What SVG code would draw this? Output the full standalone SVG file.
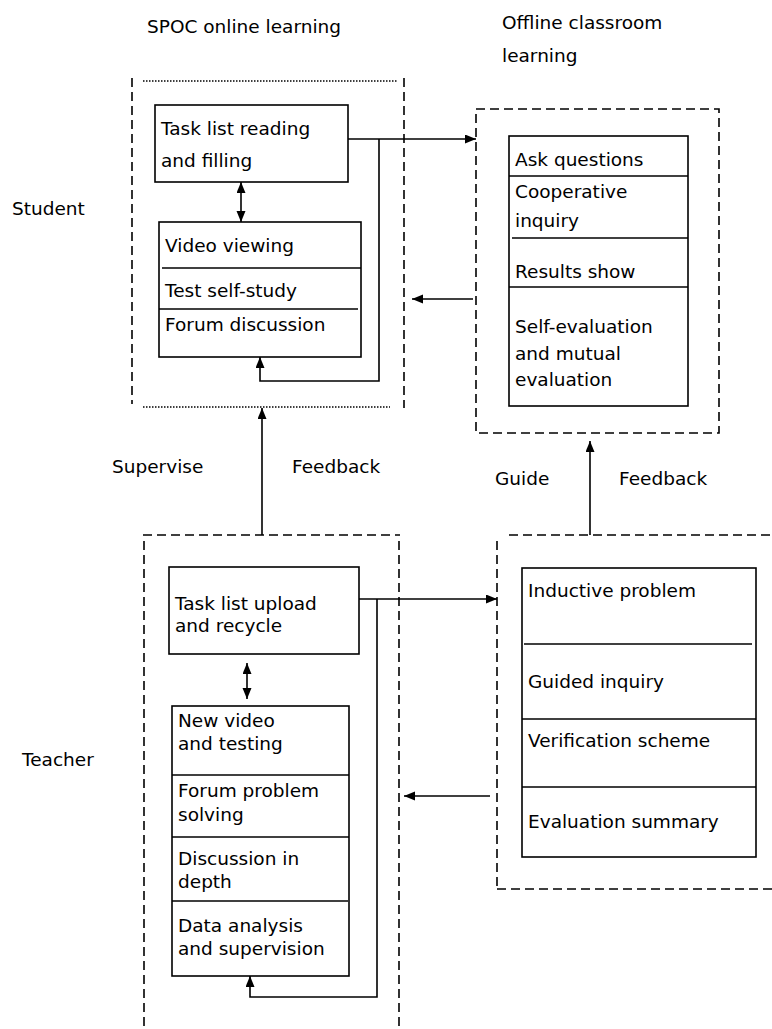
<svg xmlns="http://www.w3.org/2000/svg" width="772" height="1029" viewBox="0 0 772 1029">
<defs>
<marker id="ah" markerUnits="userSpaceOnUse" markerWidth="12" markerHeight="10" refX="11" refY="4.5" orient="auto-start-reverse">
<path d="M0,0 L11,4.5 L0,9 z" fill="#000"/>
</marker>
<style>
text{font-family:"DejaVu Sans","Open Sans",sans-serif;font-size:18.5px;fill:#000}
.box{fill:#fff;stroke:#000;stroke-width:1.6}
.sep{stroke:#000;stroke-width:1.6}
.dash{fill:none;stroke:#000;stroke-width:1.6;stroke-dasharray:9 5}
.dot{fill:none;stroke:#000;stroke-width:1.5;stroke-dasharray:1.5 1.5}
.con{fill:none;stroke:#000;stroke-width:1.6}
.arr{marker-end:url(#ah)}
.dbl{marker-start:url(#ah);marker-end:url(#ah)}
</style>
</defs>
<rect width="772" height="1029" fill="#fff"/>

<g id="labels">
<text x="147" y="33">SPOC online learning</text>
<text x="502" y="29">Offline classroom</text>
<text x="502" y="62">learning</text>
<text x="12" y="215">Student</text>
<text x="22" y="766">Teacher</text>
<text x="112" y="473">Supervise</text>
<text x="292" y="473">Feedback</text>
<text x="495" y="485">Guide</text>
<text x="619" y="485">Feedback</text>
</g>

<g id="frame-spoc">
<line class="dot" x1="143" y1="81" x2="398" y2="81"/>
<line class="dot" x1="143" y1="407" x2="390" y2="407"/>
<line class="dash" x1="132" y1="78" x2="132" y2="404"/>
<line class="dash" x1="404" y1="78" x2="404" y2="408"/>
</g>

<g id="frame-offline">
<rect class="dash" x="476" y="109" width="243" height="324"/>
</g>

<g id="frame-teacher-online">
<line class="dash" x1="143" y1="535" x2="400" y2="535"/>
<line class="dash" x1="144" y1="541" x2="144" y2="1029"/>
<line class="dash" x1="399" y1="541" x2="399" y2="1029"/>
</g>

<g id="frame-teacher-offline">
<line class="dash" x1="509" y1="535" x2="772" y2="535"/>
<line class="dash" x1="497" y1="541" x2="497" y2="889"/>
<line class="dash" x1="497" y1="889" x2="772" y2="889"/>
</g>

<g id="task-list-reading">
<rect class="box" x="155" y="105" width="193" height="77"/>
<text x="161" y="135">Task list reading</text>
<text x="161" y="167">and filling</text>
</g>

<g id="video-viewing">
<rect class="box" x="159" y="222" width="202" height="135" stroke="#333"/>
<line class="sep" x1="162" y1="268" x2="361" y2="268"/>
<line class="sep" x1="159" y1="309" x2="358" y2="309"/>
<text x="165" y="252">Video viewing</text>
<text x="165" y="297">Test self-study</text>
<text x="165" y="331">Forum discussion</text>
</g>

<g id="offline-student">
<rect class="box" x="509" y="136" width="179" height="270"/>
<line class="sep" x1="509" y1="176" x2="688" y2="176"/>
<line class="sep" x1="512" y1="238" x2="688" y2="238"/>
<line class="sep" x1="509" y1="287" x2="688" y2="287"/>
<text x="515" y="166">Ask questions</text>
<text x="515" y="198">Cooperative</text>
<text x="515" y="227">inquiry</text>
<text x="515" y="278">Results show</text>
<text x="515" y="333">Self-evaluation</text>
<text x="515" y="360">and mutual</text>
<text x="515" y="386">evaluation</text>
</g>

<g id="task-list-upload">
<rect class="box" x="169" y="567" width="190" height="87"/>
<text x="175" y="610">Task list upload</text>
<text x="175" y="632">and recycle</text>
</g>

<g id="new-video">
<rect class="box" x="172" y="706" width="177" height="270"/>
<line class="sep" x1="172" y1="775" x2="349" y2="775"/>
<line class="sep" x1="172" y1="837" x2="349" y2="837"/>
<line class="sep" x1="172" y1="901" x2="348" y2="901"/>
<text x="178" y="727">New video</text>
<text x="178" y="750">and testing</text>
<text x="178" y="797">Forum problem</text>
<text x="178" y="821">solving</text>
<text x="178" y="865">Discussion in</text>
<text x="178" y="888">depth</text>
<text x="178" y="932">Data analysis</text>
<text x="178" y="955">and supervision</text>
</g>

<g id="offline-teacher">
<rect class="box" x="522" y="568" width="234" height="289"/>
<line class="sep" x1="524" y1="644" x2="752" y2="644"/>
<line class="sep" x1="522" y1="719" x2="756" y2="719"/>
<line class="sep" x1="522" y1="787" x2="756" y2="787"/>
<text x="528" y="597">Inductive problem</text>
<text x="528" y="688">Guided inquiry</text>
<text x="528" y="747">Verification scheme</text>
<text x="528" y="828">Evaluation summary</text>
</g>

<g id="connectors">
<line class="con arr" x1="348" y1="139" x2="476" y2="139"/>
<polyline class="con arr" points="379,139 379,381 260,381 260,357"/>
<line class="con arr" x1="473" y1="299" x2="412" y2="299"/>
<line class="con dbl" x1="241" y1="182" x2="241" y2="222"/>
<line class="con arr" x1="262" y1="535" x2="262" y2="408"/>
<line class="con arr" x1="590" y1="535" x2="590" y2="441"/>
<line class="con arr" x1="359" y1="599" x2="497" y2="599"/>
<polyline class="con arr" points="377,599 377,997 250,997 250,976"/>
<line class="con arr" x1="490" y1="796" x2="404" y2="796"/>
<line class="con dbl" x1="247" y1="663" x2="247" y2="699"/>
</g>
</svg>
